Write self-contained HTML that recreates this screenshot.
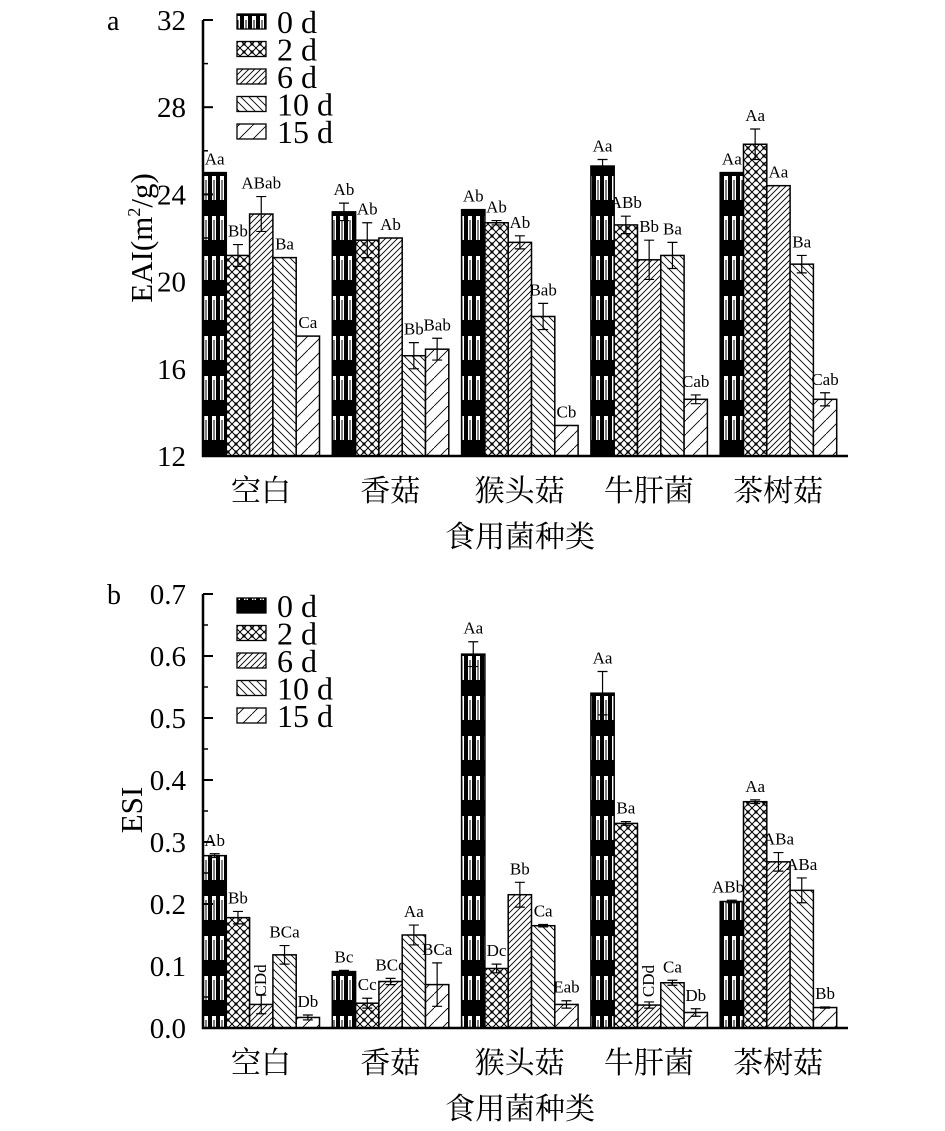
<!DOCTYPE html>
<html><head><meta charset="utf-8"><style>
body{margin:0;background:#fff}
svg{display:block;font-family:"Liberation Serif","Noto Serif CJK SC","Noto Sans CJK SC",serif}
</style></head><body>
<svg id="c" width="945" height="1131" viewBox="0 0 945 1131" xmlns="http://www.w3.org/2000/svg">
<defs>
<pattern id="p0" width="8" height="40" patternUnits="userSpaceOnUse"><rect width="8" height="40" fill="#fff"/><rect x="0" width="4" height="40" fill="#000"/><rect x="4" y="0" width="4" height="16" fill="#000"/><rect x="5.5" y="20" width="1" height="20" fill="#000"/></pattern>
<pattern id="p1" width="8" height="8" patternUnits="userSpaceOnUse"><rect width="8" height="8" fill="#fff"/><path d="M0 0L8 8M8 0L0 8" stroke="#000" stroke-width="1"/><circle cx="4" cy="4" r="1.2" fill="none" stroke="#000" stroke-width="0.8"/></pattern>
<pattern id="p2" width="6" height="6" patternUnits="userSpaceOnUse"><rect width="6" height="6" fill="#fff"/><path d="M-1 7L7 -1M-1 1L1 -1M5 7L7 5" stroke="#000" stroke-width="0.9"/></pattern>
<pattern id="p3" width="8" height="8" patternUnits="userSpaceOnUse"><rect width="8" height="8" fill="#fff"/><path d="M-1 -1L9 9M-1 7L1 9M7 -1L9 1" stroke="#000" stroke-width="0.9"/></pattern>
<pattern id="p4" width="14" height="14" patternUnits="userSpaceOnUse"><rect width="14" height="14" fill="#fff"/><path d="M0 14L14 0" stroke="#000" stroke-width="0.9"/></pattern>
</defs>
<g id="g"></g>
</svg>
<script>
const categories=["空白","香菇","猴头菇","牛肝菌","茶树菇"];
const seriesNames=["0 d","2 d","6 d","10 d","15 d"];
const eaiVals=[[25.0,21.2,23.1,21.1,17.5],[23.2,21.9,22.0,16.6,16.9],[23.3,22.7,21.8,18.4,13.4],[25.3,22.6,21.0,21.2,14.6],[25.0,26.3,24.4,20.8,14.6]];
const eaiErr=[[0,0.5,0.8,0,0],[0.4,0.8,0,0.6,0.5],[0,0.1,0.3,0.6,0],[0.3,0.4,0.9,0.6,0.2],[0,0.7,0,0.4,0.3]];
const eaiLbl=[["Aa","Bb","ABab","Ba","Ca"],["Ab","Ab","Ab","Bb","Bab"],["Ab","Ab","Ab","Bab","Cb"],["Aa","ABb","Bb","Ba","Cab"],["Aa","Aa","Aa","Ba","Cab"]];
const eaiTicks=[12,16,20,24,28,32];
const esiVals=[[0.278,0.178,0.038,0.118,0.017],[0.091,0.040,0.075,0.150,0.070],[0.603,0.096,0.215,0.165,0.038],[0.540,0.330,0.037,0.073,0.025],[0.204,0.365,0.268,0.222,0.033]];
const esiErr=[[0.003,0.010,0.015,0.015,0.004],[0.002,0.008,0.005,0.016,0.035],[0.020,0.007,0.020,0.002,0.006],[0.035,0.003,0.005,0.004,0.006],[0.002,0.003,0.015,0.020,0.001]];
const esiLbl=[["Ab","Bb","CDd","BCa","Db"],["Bc","Cc","BCc","Aa","BCa"],["Aa","Dc","Bb","Ca","Eab"],["Aa","Ba","CDd","Ca","Db"],["ABbc","Aa","ABa","ABa","Bb"]];
const esiTicks=[0,0.1,0.2,0.3,0.4,0.5,0.6,0.7];

const NS="http://www.w3.org/2000/svg",G=document.getElementById("g");
function mk(t,a,p){const e=document.createElementNS(NS,t);for(const k in a)e.setAttribute(k,a[k]);(p||G).appendChild(e);return e;}
function panel(o){
  const x0=203,x1=848,bw=23.3,gw=129.3;
  const y=v=>o.yb-(v-o.min)/(o.max-o.min)*(o.yb-o.yt);
  const pg=mk("g",{});
  
  
  o.vals.forEach((row,ci)=>row.forEach((v,si)=>{
    const bx=x0+ci*gw+si*bw,top=y(v);
    const r=mk("rect",{x:bx,y:top,width:bw,height:o.yb-top,fill:"url(#p"+si+")",stroke:"#000","stroke-width":1.5},pg);
    
    
    const e=o.err[ci][si],cx=bx+bw/2;
    if(e>0){const ht=y(v+e),hb=y(v-e);
      mk("path",{d:`M${cx} ${ht}V${hb}M${cx-5} ${ht}H${cx+5}M${cx-5} ${hb}H${cx+5}`,stroke:"#000","stroke-width":1.2,fill:"none"},pg);}
    const lb=o.lbl[ci][si];
    let t;
    if(lb==="CDd"){t=mk("text",{x:cx+5,y:top-8,"font-size":17,transform:`rotate(-90 ${cx+5} ${top-8})`},pg);}
    else t=mk("text",{x:cx,y:Math.min(top,y(v+e))-8,"font-size":17,"text-anchor":"middle"},pg);
    t.textContent=lb;
    
    
  }));
  mk("path",{d:`M${x0} ${o.yt}V${o.yb}H${x1}`,stroke:"#000","stroke-width":2.5,fill:"none"},pg);
  o.ticks.forEach((tv,i)=>{const ty=y(tv);
    mk("path",{d:`M${x0} ${ty}H${x0+10}`,stroke:"#000","stroke-width":2},pg);
    if(i<o.ticks.length-1){const my=y((tv+o.ticks[i+1])/2);mk("path",{d:`M${x0} ${my}H${x0+5}`,stroke:"#000","stroke-width":1.5},pg);}
    const t=mk("text",{x:186,y:ty+10,"font-size":29,"text-anchor":"end"},pg);t.textContent=o.fmt(tv);
    
    
  });
  categories.forEach((c,ci)=>{const t=mk("text",{x:x0+ci*gw+58,y:o.yb+45,"font-size":30,"text-anchor":"middle"},pg);t.textContent=c;
    
    });
  let t=mk("text",{x:520,y:o.yb+91,"font-size":30,"text-anchor":"middle"},pg);t.textContent="食用菌种类";
  
  
  t=mk("text",{x:o.ylx,y:o.yly,"font-size":31,"text-anchor":"middle",transform:`rotate(-90 ${o.ylx} ${o.yly})`},pg);
  if(o.sup){t.appendChild(document.createTextNode("EAI(m"));const s=mk("tspan",{"font-size":18,dy:-12},t);s.textContent="2";const s2=mk("tspan",{dy:12},t);s2.textContent="/g)";}
  else t.textContent=o.ylabel;
  
  
  t=mk("text",{x:107,y:o.yt+10,"font-size":28},pg);t.textContent=o.letter;
  
  
  seriesNames.forEach((s,si)=>{const ly=o.ly+si*27.5;
    const lg=mk("g",{},pg);
    
    
    mk("rect",{x:237,y:ly-8,width:29,height:15,fill:"url(#p"+si+")",stroke:"#000","stroke-width":1.3},lg);
    const tt=mk("text",{x:277,y:ly+11,"font-size":32},lg);tt.textContent=s;});
}
panel({name:"eai-chart",min:12,max:32,yt:20,yb:456,vals:eaiVals,err:eaiErr,lbl:eaiLbl,ticks:eaiTicks,fmt:v=>String(v),ylx:152,yly:238,sup:true,letter:"a",ly:22});
panel({name:"esi-chart",min:0,max:0.7,yt:594,yb:1028,vals:esiVals,err:esiErr,lbl:esiLbl,ticks:esiTicks,fmt:v=>v.toFixed(1),ylx:142,yly:810,ylabel:"ESI",letter:"b",ly:606});
</script>
</body></html>
